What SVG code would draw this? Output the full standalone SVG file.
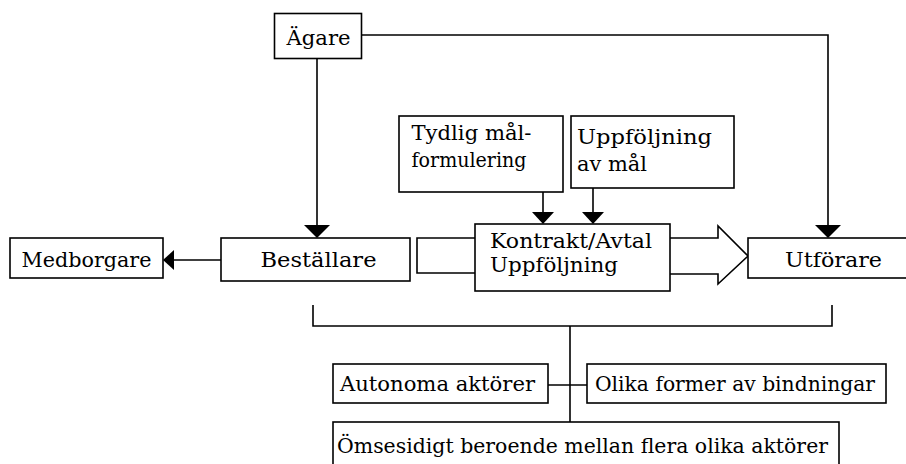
<svg xmlns="http://www.w3.org/2000/svg" width="906" height="464" viewBox="0 0 906 464">
<style>
.box{fill:#fff;stroke:#000;stroke-width:1.6}
.ln{fill:none;stroke:#000;stroke-width:1.6}
.hd{fill:#000;stroke:none}
.t{font-family:"DejaVu Serif","Liberation Serif",serif;font-size:21px;fill:#000}
</style>
<rect width="906" height="464" fill="#fff"/>
<g id="connectors">
<line class="ln" x1="317" y1="58" x2="317" y2="226"/>
<polygon class="hd" points="304,225 330,225 317,238"/>
<polyline class="ln" points="362,35 828,35 828,226"/>
<polygon class="hd" points="815,225 841,225 828,238"/>
<line class="ln" x1="221" y1="260" x2="172" y2="260"/>
<polygon class="hd" points="174,250 174,270 163,260"/>
<line class="ln" x1="543" y1="192" x2="543" y2="213"/>
<polygon class="hd" points="532,212 554,212 543,224"/>
<line class="ln" x1="593" y1="188" x2="593" y2="213"/>
<polygon class="hd" points="582,212 604,212 593,224"/>
<polyline class="ln" points="475,238 417,238 417,273 475,273"/>
<polyline class="ln" points="670,238 718,238 718,226 748,256 718,284 718,274 670,274"/>
<polyline class="ln" points="313,305 313,326 832,326 832,305"/>
<line class="ln" x1="570" y1="326" x2="570" y2="422"/>
<line class="ln" x1="548" y1="385" x2="587" y2="385"/>
</g>
<g id="agare">
<rect class="box" x="274.5" y="13.5" width="87" height="45"/>
<text class="t" x="286.5" y="45" textLength="64" lengthAdjust="spacingAndGlyphs">Ägare</text>
</g>
<g id="medborgare">
<rect class="box" x="10" y="238" width="153" height="40"/>
<text class="t" x="21.5" y="266.5" textLength="130" lengthAdjust="spacingAndGlyphs">Medborgare</text>
</g>
<g id="bestallare">
<rect class="box" x="221" y="238" width="189" height="43"/>
<text class="t" x="260.5" y="267" textLength="116" lengthAdjust="spacingAndGlyphs">Beställare</text>
</g>
<g id="tydlig">
<rect class="box" x="399" y="116" width="164" height="76"/>
<text class="t" x="411.5" y="139.5" textLength="120" lengthAdjust="spacingAndGlyphs">Tydlig mål-</text>
<text class="t" x="411.5" y="166.5" textLength="115" lengthAdjust="spacingAndGlyphs">formulering</text>
</g>
<g id="uppfoljning-mal">
<rect class="box" x="571" y="116" width="163" height="72"/>
<text class="t" x="577" y="144" textLength="135" lengthAdjust="spacingAndGlyphs">Uppföljning</text>
<text class="t" x="577" y="171" textLength="70" lengthAdjust="spacingAndGlyphs">av mål</text>
</g>
<g id="kontrakt">
<rect class="box" x="475" y="224" width="195" height="67"/>
<text class="t" x="490" y="247.5" textLength="162" lengthAdjust="spacingAndGlyphs">Kontrakt/Avtal</text>
<text class="t" x="490" y="271.5" textLength="128" lengthAdjust="spacingAndGlyphs">Uppföljning</text>
</g>
<g id="utforare">
<rect class="box" x="748" y="238" width="170" height="40"/>
<text class="t" x="785" y="266.5" textLength="97" lengthAdjust="spacingAndGlyphs">Utförare</text>
</g>
<g id="autonoma">
<rect class="box" x="333" y="364" width="215" height="39"/>
<text class="t" x="340" y="391" textLength="195" lengthAdjust="spacingAndGlyphs">Autonoma aktörer</text>
</g>
<g id="olika">
<rect class="box" x="587" y="364" width="299" height="39"/>
<text class="t" x="595" y="391" textLength="280" lengthAdjust="spacingAndGlyphs">Olika former av bindningar</text>
</g>
<g id="omsesidigt">
<rect class="box" x="333" y="422" width="506" height="50"/>
<text class="t" x="337" y="453" textLength="491" lengthAdjust="spacingAndGlyphs">Ömsesidigt beroende mellan flera olika aktörer</text>
</g>
</svg>
